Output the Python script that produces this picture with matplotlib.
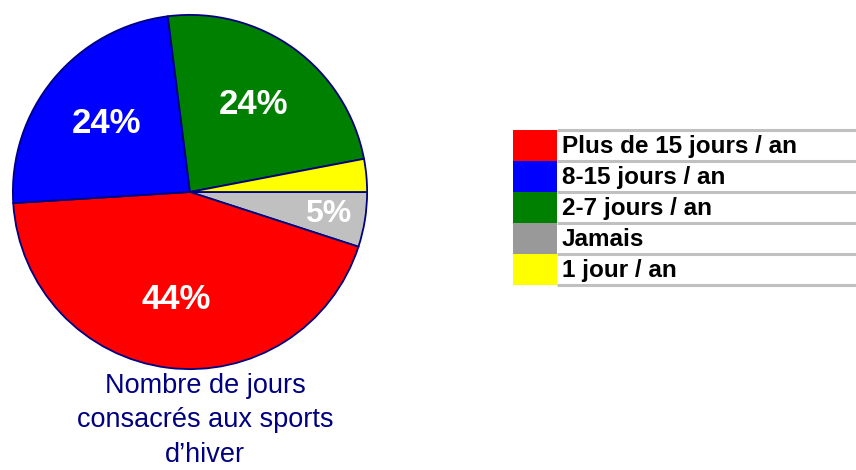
import numpy as np
import matplotlib
matplotlib.use("Agg")
from matplotlib import pyplot as plt
from matplotlib.patches import Rectangle

# slices, clockwise from 3 o'clock
slice_labels = ["Jamais", "Plus de 15 jours / an", "8-15 jours / an", "2-7 jours / an", "1 jour / an"]
slice_values = [5, 44, 24, 24, 3]
slice_colors = ["#c0c0c0", "#ff0000", "#0000ff", "#008000", "#ffff00"]

legend_labels = ["Plus de 15 jours / an", "8-15 jours / an", "2-7 jours / an", "Jamais", "1 jour / an"]
legend_colors = ["#ff0000", "#0000ff", "#008000", "#999999", "#ffff00"]

title = "Nombre de jours\nconsacrés aux sports\nd\u2019hiver"

plt.rcParams["font.family"] = ["Liberation Sans", "DejaVu Sans"]

W, H = 856, 470
fig = plt.figure(figsize=(W / 100, H / 100), dpi=100)
ax = fig.add_axes([0, 0, 1, 1])
ax.set_xlim(0, W)
ax.set_ylim(H, 0)
ax.axis("off")

# pie on its own axes (y up), placed in pixel coords
cx, cy, r = 190, 192, 178
pax = fig.add_axes([(cx - r) / W, 1 - (cy + r) / H, 2 * r / W, 2 * r / H])


def pct(p):
    return "" if p < 4 else "%d%%" % round(p)


wedges, texts, autotexts = pax.pie(
    slice_values, colors=slice_colors, startangle=0, counterclock=False,
    radius=1, autopct=pct, pctdistance=0.61,
    wedgeprops=dict(edgecolor="#000080", linewidth=1.3),
    textprops=dict(color="white", fontsize=25, fontweight="bold"),
)
pax.set_xlim(-1.005, 1.005)
pax.set_ylim(-1.005, 1.005)
pax.axis("off")

# small slice label sits further out
w = wedges[0]
ang = np.deg2rad((w.theta1 + w.theta2) / 2)
autotexts[0].set_position((0.79 * np.cos(ang), 0.79 * np.sin(ang)))
autotexts[0].set_fontsize(23)

ax.text(205, 373, title, ha="center", va="top", color="#000080",
        fontsize=19.5, linespacing=1.42)

# legend drawn as a table of rows
x0, x1, x2 = 513, 557, 856
y0, row_h = 130, 31
for i, (lab, col) in enumerate(zip(legend_labels, legend_colors)):
    y = y0 + i * row_h
    ax.add_patch(Rectangle((x0, y), x1 - x0, row_h, facecolor=col, edgecolor="none"))
    ax.plot([x1, x2], [y, y], color="#c0c0c0", lw=2.2, solid_capstyle="butt")
    ax.text(x1 + 5, y + row_h / 2 + 1, lab, ha="left", va="center",
            fontsize=17.5, fontweight="bold", color="black")
ax.plot([x1, x2], [y0 + 5 * row_h, y0 + 5 * row_h], color="#c0c0c0", lw=2.2,
        solid_capstyle="butt")

fig.savefig("out.png", dpi=100)
